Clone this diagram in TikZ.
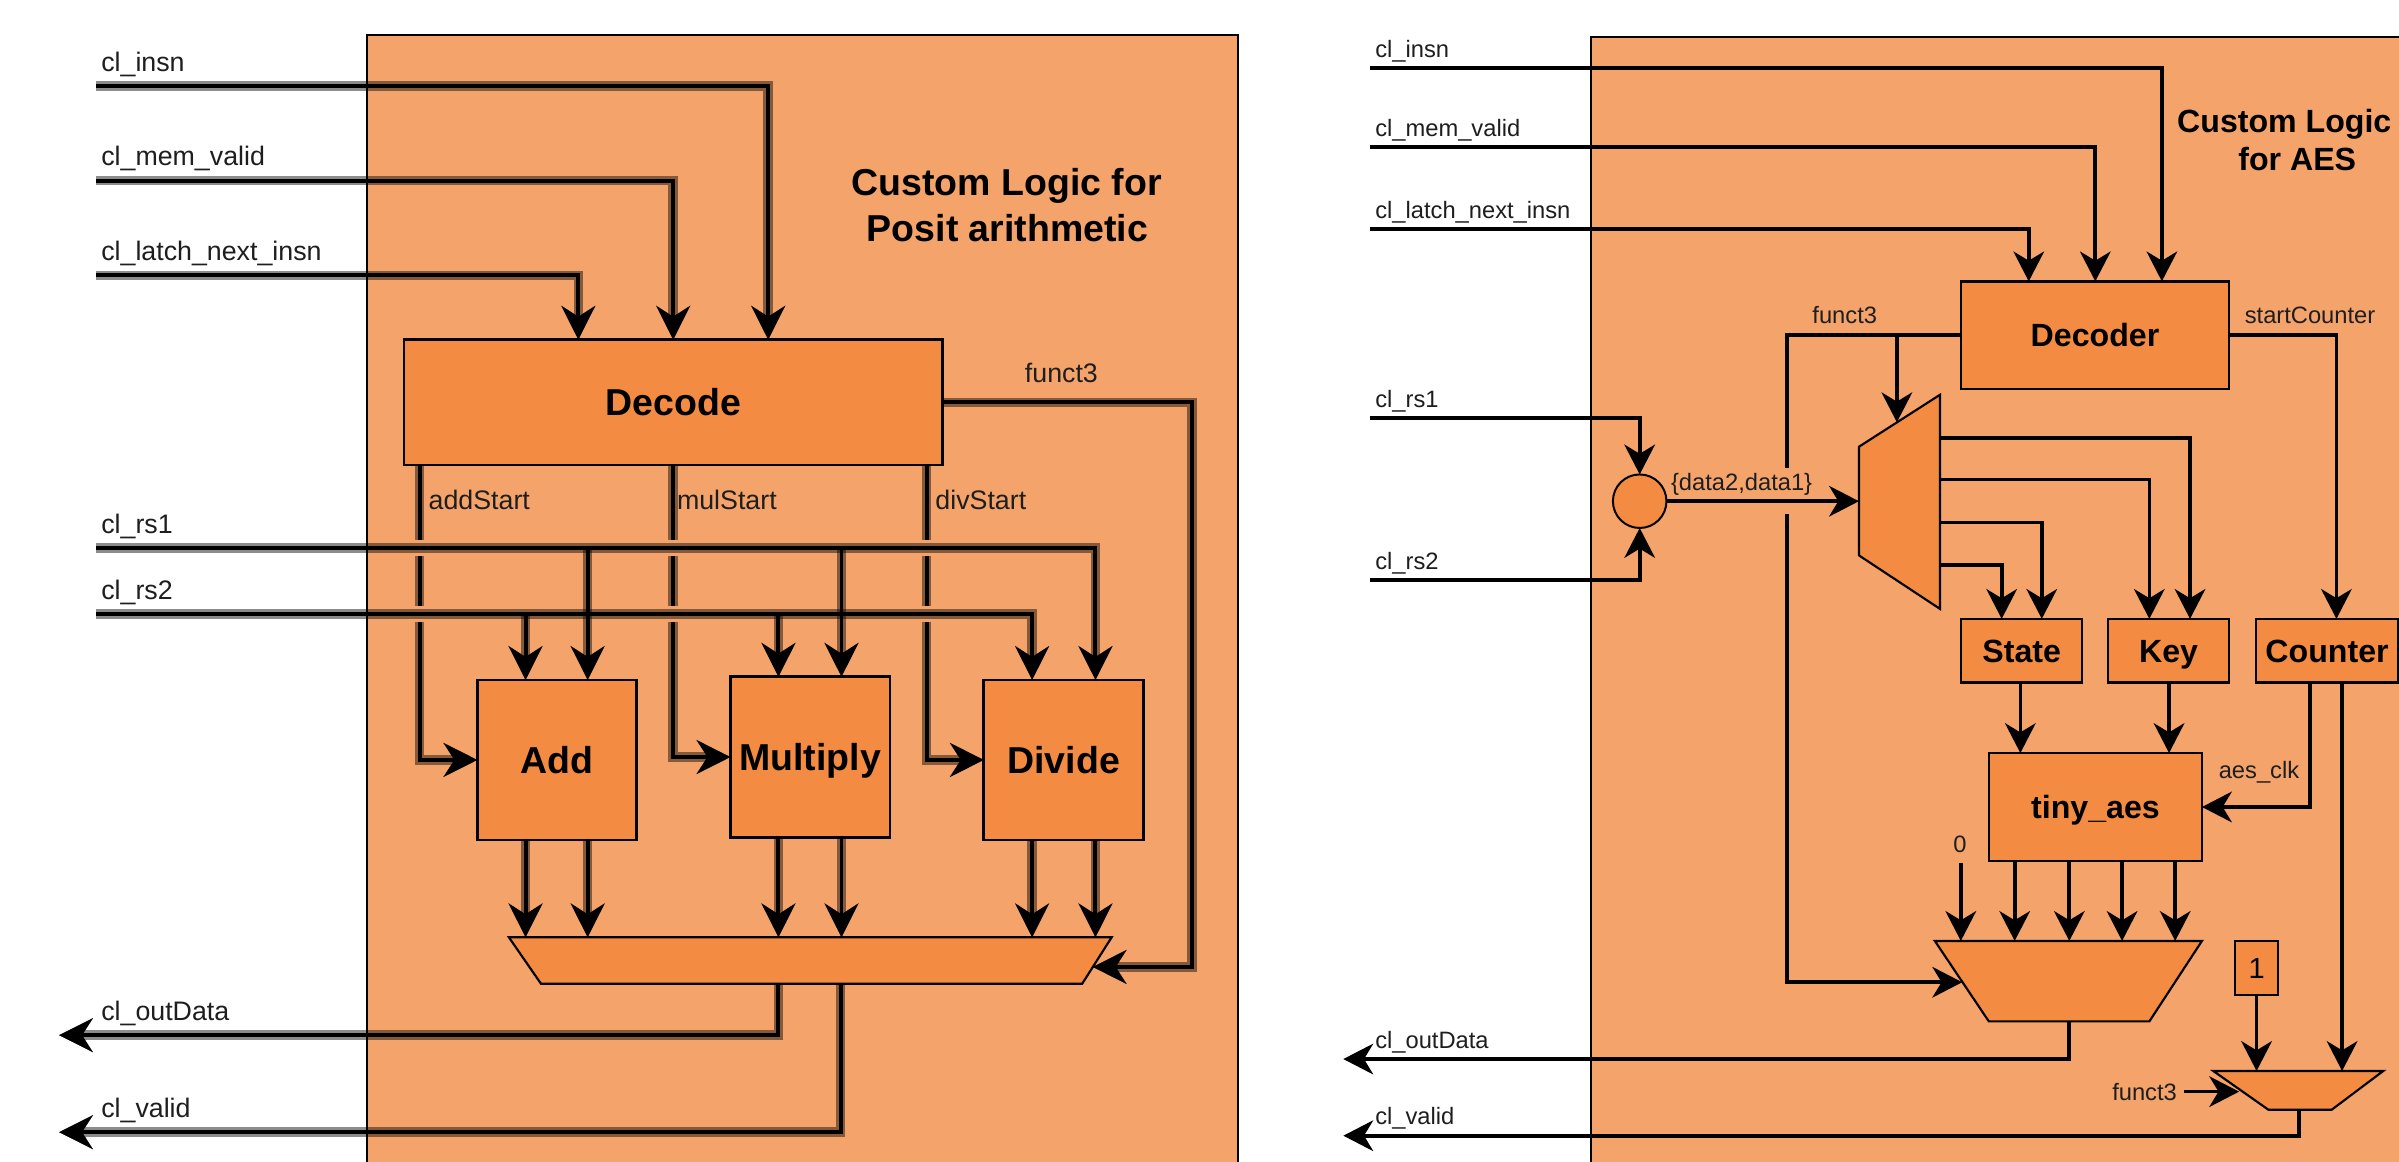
\documentclass[tikz,border=0pt]{standalone}
\usepackage{fontspec}
\setmainfont{Liberation Sans}
\usetikzlibrary{arrows.meta}
\definecolor{outerc}{HTML}{F4A46B}
\definecolor{blkc}{HTML}{F38C42}
\definecolor{txtc}{HTML}{1E1E1E}
\tikzset{
 larr/.style={-{Stealth[length=22pt,width=22pt,inset=7pt]}},
 rarr/.style={-{Stealth[length=19.5pt,width=20pt,inset=6pt]}},
 lw/.style={line width=2.6pt, preaction={draw, line width=6.2pt, black, opacity=0.45}},
 rw/.style={line width=2.4pt},
 lblock/.style={draw, fill=blkc, line width=1.8pt, inner sep=0pt, outer sep=0pt, text height=23.7pt, text depth=6.1pt, font=\fontsize{24.5}{29}\selectfont\bfseries},
 rblock/.style={draw, fill=blkc, line width=1.5pt, inner sep=0pt, outer sep=0pt, text height=20.3pt, text depth=5.25pt, font=\fontsize{21}{25}\selectfont\bfseries},
 llab/.style={font=\fontsize{17.5}{20}\selectfont, text=txtc, inner sep=0pt, anchor=base west},
 rlab/.style={font=\fontsize{15.5}{18}\selectfont, text=txtc, inner sep=0pt, anchor=base west},
 ltitle/.style={font=\fontsize{24.5}{29}\selectfont\bfseries, inner sep=0pt, anchor=base},
 rtitle/.style={font=\fontsize{21}{25}\selectfont\bfseries, inner sep=0pt, anchor=base},
 outerbox/.style={draw, fill=outerc, line width=1.3pt},
 muxs/.style={draw, fill=blkc, line width=1.4pt, line join=miter},
}
\begin{document}
\begin{tikzpicture}[x=1pt,y=-1pt]
\useasboundingbox (0,0) rectangle (1568,759);
\clip (0,0) rectangle (1568,759);
\fill[white] (0,0) rectangle (1568,759);

%================ LEFT PANEL ================
\draw[outerbox] (240,23) rectangle (809,800);
\node[ltitle] (ltA) at (658,127.6) {Custom Logic for};
\node[ltitle] (ltB) at (658.5,157.6) {Posit arithmetic};

\node[lblock, minimum width=352pt, minimum height=82pt] (dec) at (440,263) {Decode};
\node[lblock, minimum width=104pt, minimum height=104.6pt] (add) at (364,496.7) {Add};
\node[lblock, minimum width=104.3pt, minimum height=105pt] (mul) at (529.55,494.8) {Multiply};
\node[lblock, minimum width=104.5pt, minimum height=104.6pt] (div) at (695.25,496.7) {Divide};
\draw[muxs] (332.6,612.6) -- (726.6,612.6) -- (707.3,643) -- (353.6,643) -- cycle;
\coordinate (lmuxT) at (529.6,612.6);
\coordinate (lmuxR) at (714.2,632);

\coordinate (Lin1) at (63,56.3);
\coordinate (Lin2) at (63,118);
\coordinate (Lin3) at (63,180);
\coordinate (Lrs1) at (63,358.2);
\coordinate (Lrs2) at (63,401.3);
\coordinate (Lout1) at (38.6,676.6);
\coordinate (Lout2) at (38.6,740);

\node[llab] (lInsn) at (66,46.7) {cl\_insn};
\node[llab] (lMem) at (66,108.5) {cl\_mem\_valid};
\node[llab] (lLatch) at (66,170.5) {cl\_latch\_next\_insn};
\node[llab] (lRs1) at (66,348.7) {cl\_rs1};
\node[llab] (lRs2) at (66,391.8) {cl\_rs2};
\node[llab] (lOut) at (66,667) {cl\_outData};
\node[llab] (lVal) at (66,730.5) {cl\_valid};
\node[llab] (lAddS) at (280,333.3) {addStart};
\node[llab] (lMulS) at (442.3,333.3) {mulStart};
\node[llab] (lDivS) at (611.2,333.3) {divStart};
\node[llab] (lF3) at (669.7,250) {funct3};

\draw[lw,larr] (Lin1) -| (502.1,0 |- dec.north);
\draw[lw,larr] (Lin2) -| (440,0 |- dec.north);
\draw[lw,larr] (Lin3) -| (378,0 |- dec.north);
\draw[lw,larr] (dec.east) -| (779,632) -- (lmuxR);

% start signals with line jumps
\draw[lw] (274.2,0 |- dec.south) -- (274.2,353);
\draw[lw] (274.2,363.4) -- (274.2,396.1);
\draw[lw,larr] (274.2,406.5) |- (add.west);
\draw[lw] (439.8,0 |- dec.south) -- (439.8,353);
\draw[lw] (439.8,363.4) -- (439.8,396.1);
\draw[lw,larr] (439.8,406.5) |- (mul.west);
\draw[lw] (605.7,0 |- dec.south) -- (605.7,353);
\draw[lw] (605.7,363.4) -- (605.7,396.1);
\draw[lw,larr] (605.7,406.5) |- (div.west);

% rs1 / rs2
\draw[lw,larr] (Lrs1) -| (716,0 |- div.north);
\draw[lw,larr] (384.1,0 |- Lrs1) -- (384.1,0 |- add.north);
\draw[lw,larr] (550,0 |- Lrs1) -- (550,0 |- mul.north);
\draw[lw,larr] (Lrs2) -| (674.6,0 |- div.north);
\draw[lw,larr] (343.5,0 |- Lrs2) -- (343.5,0 |- add.north);
\draw[lw,larr] (508.8,0 |- Lrs2) -- (508.8,0 |- mul.north);

% outputs to mux
\draw[lw,larr] (343.5,0 |- add.south) -- (343.5,0 |- lmuxT);
\draw[lw,larr] (384.1,0 |- add.south) -- (384.1,0 |- lmuxT);
\draw[lw,larr] (508.8,0 |- mul.south) -- (508.8,0 |- lmuxT);
\draw[lw,larr] (550,0 |- mul.south) -- (550,0 |- lmuxT);
\draw[lw,larr] (674.6,0 |- div.south) -- (674.6,0 |- lmuxT);
\draw[lw,larr] (716,0 |- div.south) -- (716,0 |- lmuxT);

\draw[lw,larr] (508.8,643) |- (Lout1);
\draw[lw,larr] (549.5,643) |- (Lout2);

%================ RIGHT PANEL ================
\draw[outerbox] (1040,24.3) rectangle (1650,800);
\node[rtitle] (rtA) at (1493,86.3) {Custom Logic};
\node[rtitle] (rtB) at (1501.5,111.3) {for AES};

\node[rblock, minimum width=175.4pt, minimum height=70.5pt] (decr) at (1369.3,219.15) {Decoder};
\node[rblock, minimum width=79.3pt, minimum height=41.5pt] (state) at (1321.35,425.25) {State};
\node[rblock, minimum width=79.2pt, minimum height=41.5pt] (key) at (1417.4,425.25) {Key};
\node[rblock, minimum width=93.1pt, minimum height=41.5pt] (cnt) at (1520.95,425.25) {Counter};
\node[rblock, minimum width=139.2pt, minimum height=70.5pt] (aes) at (1369.6,527.45) {tiny\_aes};
\node[rblock, font=\fontsize{19}{22}\selectfont, text height=18.35pt, text depth=4.75pt, minimum width=28.4pt, minimum height=35.4pt] (one) at (1474.9,632.7) {1};
\node[draw, fill=blkc, line width=1.3pt, circle, minimum size=35pt, inner sep=0pt, outer sep=0pt] (cir) at (1071.7,327.6) {};

\draw[muxs] (1215,292) -- (1268,258) -- (1268,398) -- (1215,363) -- cycle;
\draw[muxs] (1264.6,615) -- (1439.2,615) -- (1404.8,667.6) -- (1299.9,667.6) -- cycle;
\draw[muxs] (1446.6,700) -- (1557.7,700) -- (1524,725.3) -- (1482.6,725.3) -- cycle;
\coordinate (m1L) at (1215,327.6);
\coordinate (m1T) at (1239.8,276);
\coordinate (m2T) at (1352,615);
\coordinate (m2L) at (1282.5,642);
\coordinate (m2B) at (1352.3,667.6);
\coordinate (m3T) at (1502,700);
\coordinate (m3L) at (1463.5,713.5);
\coordinate (m3B) at (1502.4,725.3);

\coordinate (Rin1) at (895.4,44.3);
\coordinate (Rin2) at (895.4,96.3);
\coordinate (Rin3) at (895.4,149.6);
\coordinate (Rrs1) at (895.4,273.4);
\coordinate (Rrs2) at (895.4,379);
\coordinate (Rout1) at (878,692.2);
\coordinate (Rout2) at (878,742.3);

\node[rlab] (rInsn) at (898.7,37.3) {cl\_insn};
\node[rlab] (rMem) at (898.7,89.3) {cl\_mem\_valid};
\node[rlab] (rLatch) at (898.7,142.6) {cl\_latch\_next\_insn};
\node[rlab] (rRs1) at (898.7,266.4) {cl\_rs1};
\node[rlab] (rRs2) at (898.7,372) {cl\_rs2};
\node[rlab] (rOut) at (898.7,685) {cl\_outData};
\node[rlab] (rVal) at (898.7,735) {cl\_valid};
\node[rlab] (rF3) at (1184.4,211.3) {funct3};
\node[rlab] (rSC) at (1467,211.3) {startCounter};
\node[rlab] (rData) at (1092,320.3) {\{data2,data1\}};
\node[rlab] (rClk) at (1450,509) {aes\_clk};
\node[rlab, anchor=base] (zero) at (1281,557) {0};
\node[rlab, anchor=base east] (rF3b) at (1423,719.5) {funct3};

\draw[rw,rarr] (Rin1) -| (1413,0 |- decr.north);
\draw[rw,rarr] (Rin2) -| (1369.5,0 |- decr.north);
\draw[rw,rarr] (Rin3) -| (1326,0 |- decr.north);
\draw[rw,rarr] (Rrs1) -| (cir.north);
\draw[rw,rarr] (Rrs2) -| (cir.south);
\draw[rw,rarr] (cir.east) -- (m1L);
\draw[rw] (decr.west) -| (1168,306);
\draw[rw,rarr] (1168,336) |- (m2L);
\draw[rw,rarr] (1239.8,0 |- decr.west) -- (m1T);
\draw[rw,rarr] (1268,286.1) -| (1431.4,0 |- key.north);
\draw[rw,rarr] (1268,313.3) -| (1404.8,0 |- key.north);
\draw[rw,rarr] (1268,341.6) -| (1334.5,0 |- state.north);
\draw[rw,rarr] (1268,369.3) -| (1308.3,0 |- state.north);
\draw[rw,rarr] (decr.east) -| (1527.1,0 |- cnt.north);
\draw[rw,rarr] (1320.5,0 |- state.south) -- (1320.5,0 |- aes.north);
\draw[rw,rarr] (1417.7,0 |- key.south) -- (1417.7,0 |- aes.north);
\draw[rw,rarr] (1509.7,0 |- cnt.south) |- (aes.east);
\draw[rw,rarr] (1530.8,0 |- cnt.south) -- (1530.8,0 |- m3T);
\draw[rw,rarr] (1281.6,564) -- (1281.6,0 |- m2T);
\draw[rw,rarr] (1316.8,0 |- aes.south) -- (1316.8,0 |- m2T);
\draw[rw,rarr] (1352.5,0 |- aes.south) -- (1352.5,0 |- m2T);
\draw[rw,rarr] (1387,0 |- aes.south) -- (1387,0 |- m2T);
\draw[rw,rarr] (1421.7,0 |- aes.south) -- (1421.7,0 |- m2T);
\draw[rw,rarr] (one.south) -- (1474.9,0 |- m3T);
\draw[rw,rarr] (1427.7,713.5) -- (m3L);
\draw[rw,rarr] (m2B) |- (Rout1);
\draw[rw,rarr] (m3B) |- (Rout2);
\end{tikzpicture}
\end{document}
